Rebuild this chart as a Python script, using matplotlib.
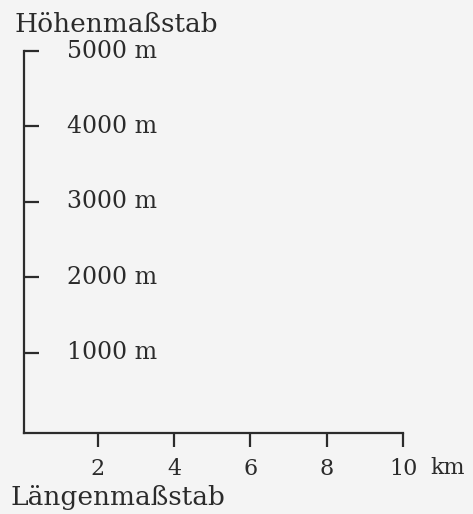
import matplotlib.pyplot as plt

height_ticks = [1000, 2000, 3000, 4000, 5000]
height_labels = ["1000 m", "2000 m", "3000 m", "4000 m", "5000 m"]
length_ticks = [2, 4, 6, 8, 10]
length_labels = ["2", "4", "6", "8", "10"]
height_title = "Höhenmaßstab"
length_title = "Längenmaßstab"
length_unit = "km"

W, H = 473, 514
bg = "#f4f4f4"
ink = "#2b2b2b"
plt.rcParams["font.family"] = ["DejaVu Serif"]

fig = plt.figure(figsize=(W / 100, H / 100), dpi=100, facecolor=bg)
# axes box in pixels: left 24, right 403, top 51, bottom 433
ax = fig.add_axes([24 / W, 1 - 433 / H, (403 - 24) / W, (433 - 51) / H])
ax.set_facecolor(bg)
ax.set_xlim(0.06, 10)
ax.set_ylim(-60, 5000)

for s in ["top", "right"]:
    ax.spines[s].set_visible(False)
for s in ["left", "bottom"]:
    ax.spines[s].set_color(ink)
    ax.spines[s].set_linewidth(1.6)

ax.set_yticks(height_ticks)
ax.set_yticklabels([])
ax.tick_params(axis="y", direction="in", length=11, width=1.6, color=ink)
ax.set_xticks(length_ticks)
ax.set_xticklabels([])
ax.tick_params(axis="x", direction="out", length=10, width=1.6, color=ink)

for v, lab in zip(height_ticks, height_labels):
    ax.annotate(lab, xy=(0.06, v), xytext=(31, 0), textcoords="offset points",
                ha="left", va="center", fontsize=17, color=ink)

for v, lab in zip(length_ticks, length_labels):
    ax.annotate(lab, xy=(v, -60), xytext=(0, -26), textcoords="offset points",
                ha="center", va="center", fontsize=16, color=ink)

fig.text(430 / W, 1 - 468 / H, length_unit, ha="left", va="center",
         fontsize=16, color=ink)
fig.text(10 / W, 1 - 497 / H, length_title, ha="left", va="center",
         fontsize=19, color=ink)
fig.text(14 / W, 1 - 24 / H, height_title, ha="left", va="center",
         fontsize=19, color=ink)

fig.savefig("out.png", dpi=100, facecolor=bg)
